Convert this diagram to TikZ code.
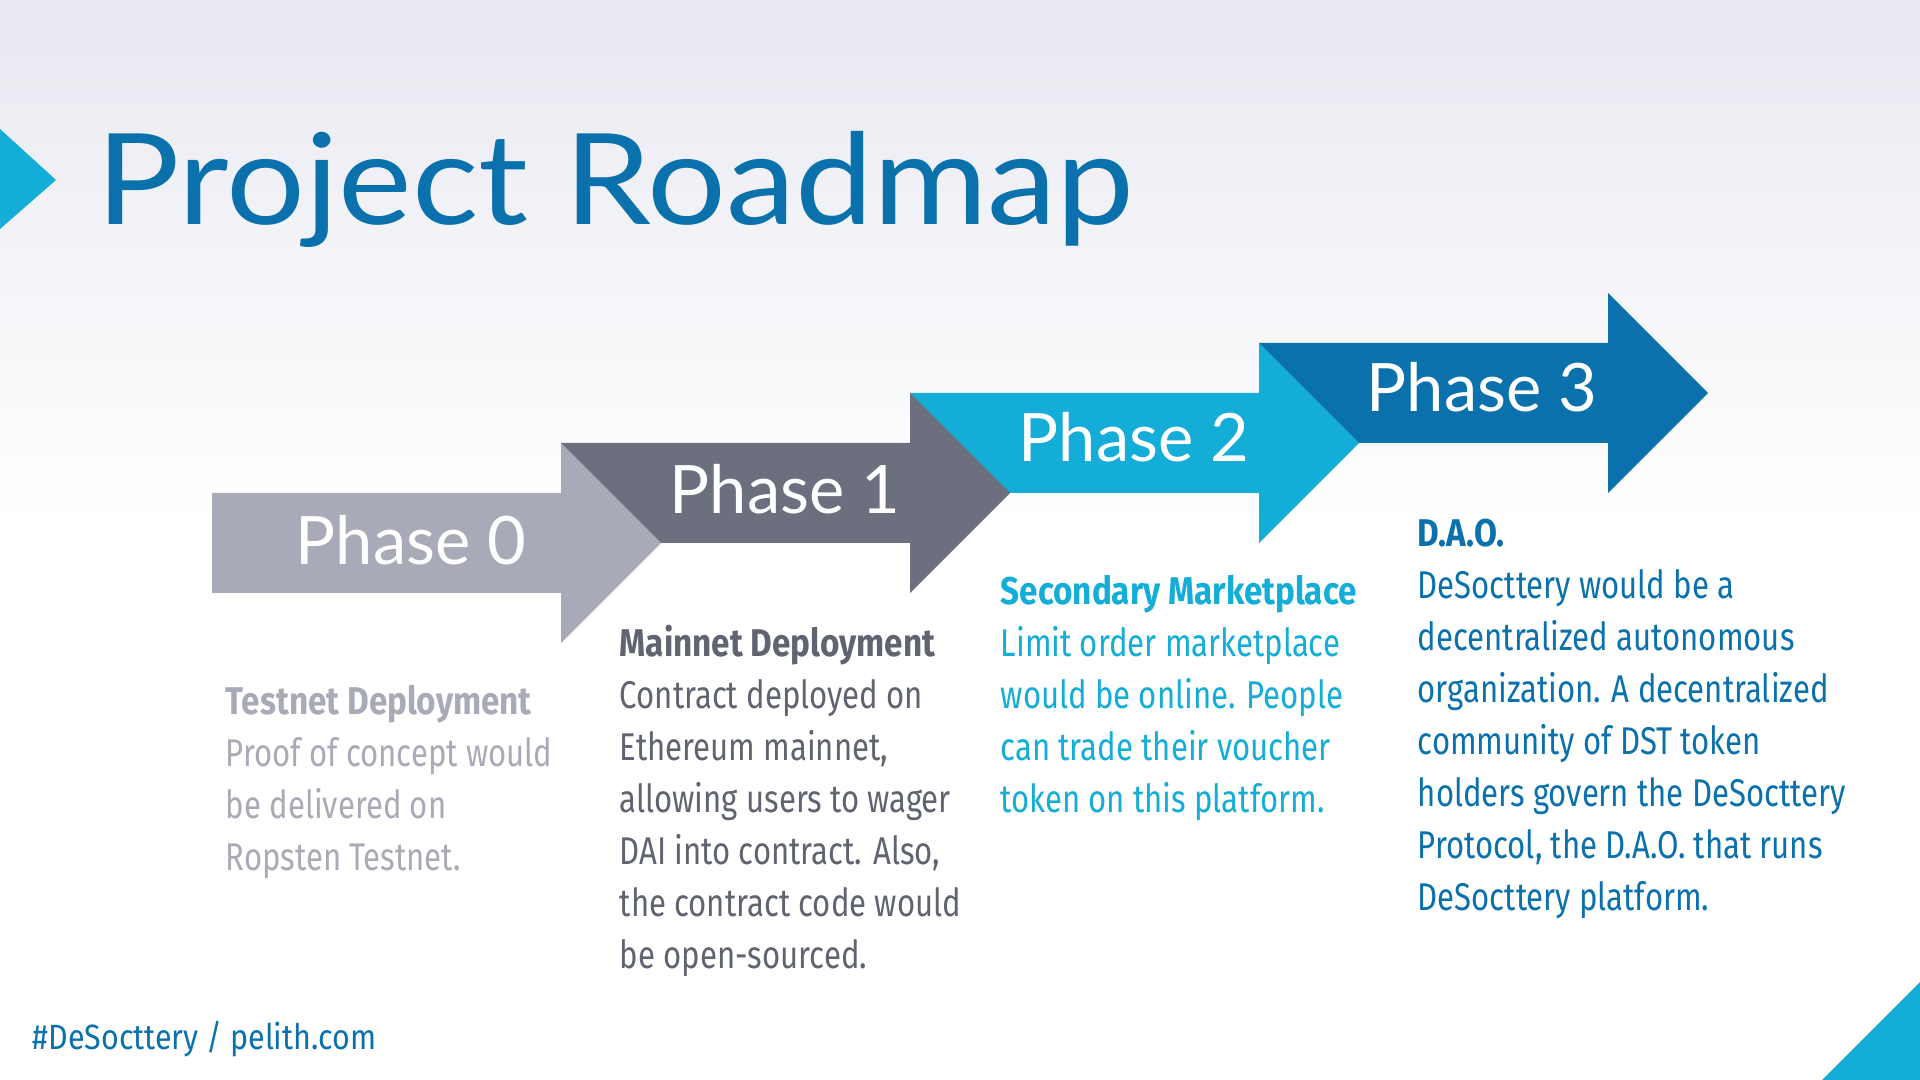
\documentclass[tikz,border=0pt]{standalone}
\usepackage{fontspec}
\setmainfont{Fira Sans}[FakeStretch=0.805, BoldFeatures={FakeStretch=0.86}]
\newfontfamily\headfont{Lato}
\newfontfamily\titlefont{Lato}[FakeStretch=1.1]
\newfontfamily\footfont{Fira Sans}[FakeStretch=0.866]
\usetikzlibrary{positioning}
\definecolor{cbg}{HTML}{E8E9F1}
\definecolor{cpale}{HTML}{A8AAB8}
\definecolor{cslate}{HTML}{6B6F7E}
\definecolor{ccyan}{HTML}{13ADD7}
\definecolor{cblue}{HTML}{0B71AD}
\tikzset{
  every picture/.style={line width=1pt},
  phase/.style={text=white, inner sep=0pt, font=\headfont\fontsize{19}{22}\selectfont},
  blurb/.style={anchor=north west, align=left, inner sep=0pt, font=\fontsize{11}{14.8}\selectfont},
}

\begin{document}
\begin{tikzpicture}
  \useasboundingbox (0,0) rectangle (19.2,10.8);
  % backdrop: soft grey at the top fading to white
  \fill[white] (0,0) rectangle (19.2,10.8);
  \shade[top color=cbg, bottom color=white] (0,10.8) rectangle (19.2,5.6);
  \fill[ccyan] (0,9.51) -- (0.56,9.0) -- (0,8.51) -- cycle;
  \fill[ccyan] (18.22,0) -- (19.2,0.98) -- (19.2,0) -- cycle;
  \node[anchor=base west, inner sep=0pt, text=cblue, font=\titlefont\fontsize{36}{40}\selectfont] (title) at (0.945,8.55) {Project Roadmap};
  % the four phase arrows, drawn back to front so each head lies on the next body
  \foreach \i/\c in {3/cblue, 2/ccyan, 1/cslate, 0/cpale} {
    \pgfmathsetmacro{\x}{2.12+3.49*\i}
    \pgfmathsetmacro{\y}{5.37+0.5*\i}
    \fill[\c] (\x,\y-0.5) -- (\x+3.49,\y-0.5) -- (\x+3.49,\y-1) -- (\x+4.49,\y) -- (\x+3.49,\y+1)
      -- (\x+3.49,\y+0.5) -- (\x,\y+0.5) -- cycle;
  }
  \node[phase] (p0) at (4.11,5.40) {Phase 0};
  \node[phase] (p1) at (7.85,5.91) {Phase 1};
  \node[phase] (p2) at (11.34,6.43) {Phase 2};
  \node[phase] (p3) at (14.82,6.93) {Phase 3};
  % what each phase brings
  \node[blurb, text=cpale] (b0) at (2.24,3.97) {\textbf{Testnet Deployment}\\Proof of concept would\\be delivered on\\Ropsten Testnet.};
  \node[blurb, text=cslate!90!black] (b1) at (6.18,4.565) {\textbf{Mainnet Deployment}\\Contract deployed on\\Ethereum mainnet,\\allowing users to wager\\DAI into contract. Also,\\the contract code would\\be open-sourced.};
  \node[blurb, text=ccyan] (b2) at (9.99,5.07) {\textbf{Secondary Marketplace}\\Limit order marketplace\\would be online. People\\can trade their voucher\\token on this platform.};
  \node[blurb, text=cblue] (b3) at (14.16,5.63) {\textbf{D.A.O.}\\DeSocttery would be a\\decentralized autonomous\\organization. A decentralized\\community of DST token\\holders govern the DeSocttery\\Protocol, the D.A.O. that runs\\DeSocttery platform.};
  \node[anchor=base west, inner sep=0pt, text=cblue, font=\footfont\fontsize{10}{12}\selectfont] (foot) at (0.31,0.30) {\#DeSocttery / pelith.com};
\end{tikzpicture}
\end{document}
